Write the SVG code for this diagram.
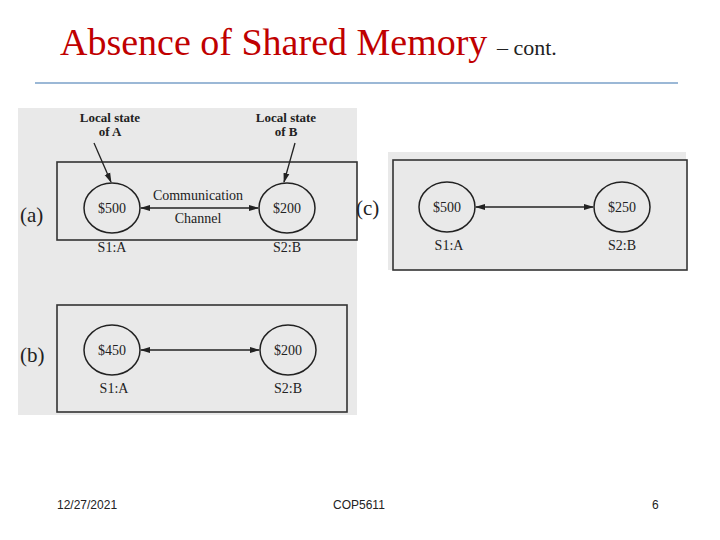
<svg xmlns="http://www.w3.org/2000/svg" width="720" height="540" viewBox="0 0 720 540">
<style>
.t{font-family:"Liberation Serif",serif;fill:#222}
.s{font-size:14px}
.l{font-size:13px;font-weight:bold}
.p{font-size:21px}
.bx{fill:none;stroke:#333;stroke-width:1.6}
.c{fill:none;stroke:#222;stroke-width:1.5}
.e{stroke:#222;stroke-width:1.3;fill:none}
.f{font-family:"Liberation Sans",sans-serif;font-size:12px;fill:#222}
</style>
<defs>
<marker id="ah" markerWidth="10" markerHeight="8" refX="9" refY="4" orient="auto-start-reverse" markerUnits="userSpaceOnUse"><path d="M0,1 L10,4 L0,7 Z" fill="#222"/></marker>
</defs>
<rect width="720" height="540" fill="#fff"/>
<text x="60" y="55" font-family="Liberation Serif,serif" font-size="38" fill="#c00000">Absence of Shared Memory <tspan font-size="22" fill="#222">– cont.</tspan></text>
<line x1="35" y1="83" x2="678" y2="83" stroke="#7aa0c8" stroke-width="1.5"/>
<rect x="18" y="108" width="339" height="307" fill="#e9e9e9"/>
<rect x="388" y="152" width="298" height="118" fill="#e9e9e9"/>
<g id="panelA">
<rect class="bx" x="57" y="162" width="300" height="78"/>
<text class="t p" x="20" y="222">(a)</text>
<text class="t l" x="110" y="122" text-anchor="middle">Local state</text>
<text class="t l" x="110" y="136" text-anchor="middle">of A</text>
<text class="t l" x="286" y="122" text-anchor="middle">Local state</text>
<text class="t l" x="286" y="136" text-anchor="middle">of B</text>
</g>
<g id="nodeA1"><ellipse class="c" cx="112" cy="208" rx="28" ry="25"/><text class="t s" x="112" y="213" text-anchor="middle">$500</text><text class="t s" x="112" y="252" text-anchor="middle">S1:A</text></g>
<g id="nodeB1"><ellipse class="c" cx="287" cy="208" rx="28" ry="25"/><text class="t s" x="287" y="213" text-anchor="middle">$200</text><text class="t s" x="287" y="252" text-anchor="middle">S2:B</text></g>
<text class="t s" x="198" y="200" text-anchor="middle">Communication</text>
<text class="t s" x="198" y="223" text-anchor="middle">Channel</text>
<g id="panelB">
<rect class="bx" x="57" y="305" width="290" height="107"/>
<text class="t p" x="20" y="362">(b)</text>
</g>
<g id="nodeA2"><ellipse class="c" cx="112" cy="350" rx="28" ry="25"/><text class="t s" x="112" y="355" text-anchor="middle">$450</text><text class="t s" x="114" y="393" text-anchor="middle">S1:A</text></g>
<g id="nodeB2"><ellipse class="c" cx="288" cy="350" rx="28" ry="25"/><text class="t s" x="288" y="355" text-anchor="middle">$200</text><text class="t s" x="288" y="393" text-anchor="middle">S2:B</text></g>
<g id="panelC">
<rect class="bx" x="393" y="160" width="294" height="110"/>
<text class="t p" x="356" y="215">(c)</text>
</g>
<g id="nodeA3"><ellipse class="c" cx="447" cy="207" rx="28" ry="25"/><text class="t s" x="447" y="212" text-anchor="middle">$500</text><text class="t s" x="449" y="250" text-anchor="middle">S1:A</text></g>
<g id="nodeB3"><ellipse class="c" cx="622" cy="207" rx="28" ry="25"/><text class="t s" x="622" y="212" text-anchor="middle">$250</text><text class="t s" x="622" y="250" text-anchor="middle">S2:B</text></g>
<g id="connectors">
<line class="e" x1="94" y1="143" x2="111" y2="182" marker-end="url(#ah)"/>
<line class="e" x1="295" y1="143" x2="284" y2="182" marker-end="url(#ah)"/>
<line class="e" x1="141" y1="208" x2="258" y2="208" marker-start="url(#ah)" marker-end="url(#ah)"/>
<line class="e" x1="141" y1="350" x2="259" y2="350" marker-start="url(#ah)" marker-end="url(#ah)"/>
<line class="e" x1="476" y1="207" x2="593" y2="207" marker-start="url(#ah)" marker-end="url(#ah)"/>
</g>
<text class="f" x="57" y="509">12/27/2021</text>
<text class="f" x="333" y="509">COP5611</text>
<text class="f" x="652" y="509">6</text>
</svg>
